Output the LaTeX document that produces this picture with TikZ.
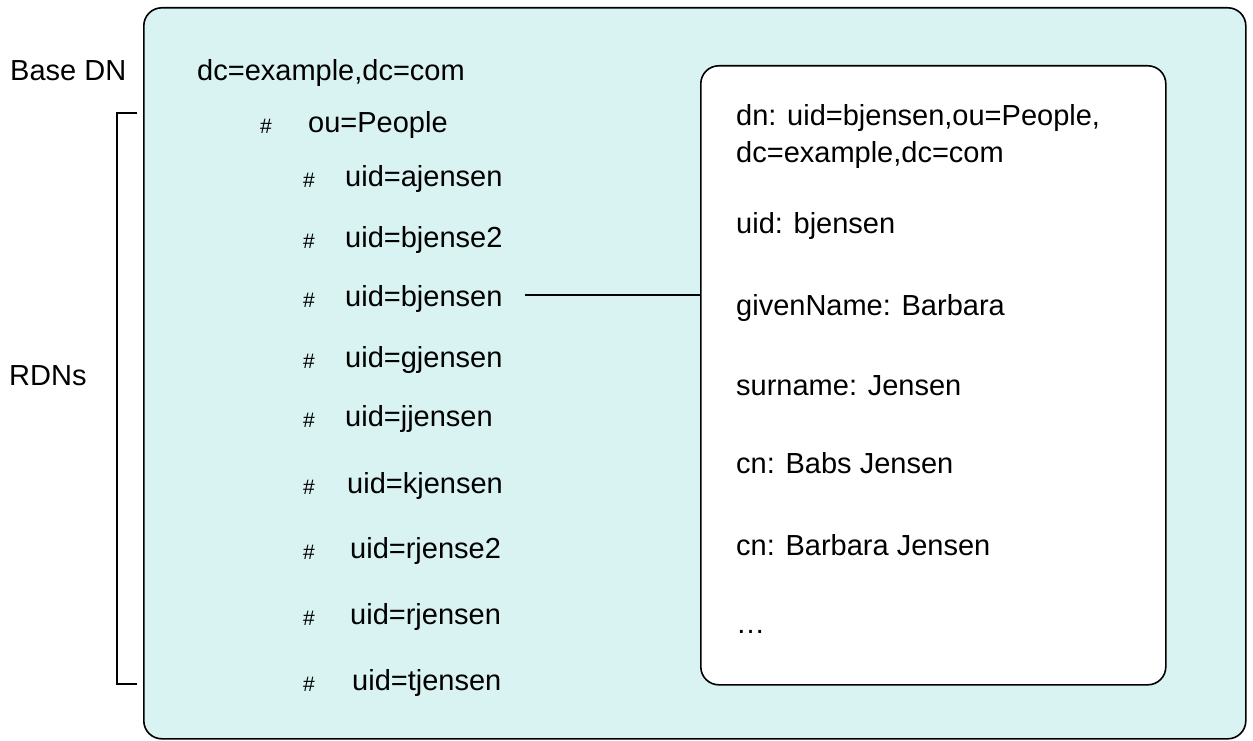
\documentclass[tikz,border=0pt]{standalone}
\usepackage{fontspec}
\setmainfont{Liberation Sans}
\definecolor{panel}{RGB}{217,242,242}
\begin{document}
\begin{tikzpicture}[x=1pt,y=-1pt,
  txt/.style={anchor=base west, inner sep=0pt, font=\fontsize{29}{37}\selectfont},
  hash/.style={anchor=base west, inner sep=0pt, font=\fontsize{21}{24}\selectfont},
  frame/.style={draw=black, line width=1.6pt, rounded corners=18pt, anchor=north west, inner sep=0pt},
  conn/.style={draw=black, line width=1.3pt}
]
\useasboundingbox (0,0) rectangle (1253,741);
% outer panel
\node[frame, fill=panel, minimum width=1102pt, minimum height=731pt] (tree) at (143,7) {};
% entry box
\node[frame, fill=white, minimum width=465pt, minimum height=619pt] (entry) at (700,65) {};

% side labels
\node[txt] (basedn) at (10,81) {Base DN};
\node[txt] (rdns) at (9,385) {RDNs};

% bracket
\coordinate (bt) at (137,113);
\coordinate (bb) at (137,684);
\draw[conn] (bt) -- ++(-20,0) |- (bb);

% tree
\node[txt] (root) at (197,81) {dc=example,dc=com};
\node[hash] (h0) at (260,134) {\#};
\node[txt] (ou) at (308,133) {ou=People};
\node[hash] (h1) at (303,187) {\#};
\node[txt] (r1) at (345,186) {uid=ajensen};
\node[hash] (h2) at (303,248) {\#};
\node[txt] (r2) at (345,247) {uid=bjense2};
\node[hash] (h3) at (303,307) {\#};
\node[txt] (r3) at (345,306) {uid=bjensen};
\node[hash] (h4) at (303,368) {\#};
\node[txt] (r4) at (345,367) {uid=gjensen};
\node[hash] (h5) at (303,427) {\#};
\node[txt] (r5) at (345,426) {uid=jjensen};
\node[hash] (h6) at (303,494) {\#};
\node[txt] (r6) at (347,493) {uid=kjensen};
\node[hash] (h7) at (303,559) {\#};
\node[txt] (r7) at (350,558) {uid=rjense2};
\node[hash] (h8) at (303,625) {\#};
\node[txt] (r8) at (350,624) {uid=rjensen};
\node[hash] (h9) at (303,691) {\#};
\node[txt] (r9) at (352,690) {uid=tjensen};

% connector
\coordinate (c1) at (525,295);
\draw[conn] (c1) -- (c1 -| entry.west);

% entry attributes
\node[txt, anchor=north west, align=left] (dn) at (736,104) {dn: uid=bjensen,ou=People,\\dc=example,dc=com};
\node[txt] (a1) at (736,233) {uid: bjensen};
\node[txt] (a2) at (736,315) {givenName: Barbara};
\node[txt] (a3) at (736,395) {surname: Jensen};
\node[txt] (a4) at (736,473) {cn: Babs Jensen};
\node[txt] (a5) at (736,555) {cn: Barbara Jensen};
\node[txt] (a6) at (736,633) {…};
\end{tikzpicture}
\end{document}
